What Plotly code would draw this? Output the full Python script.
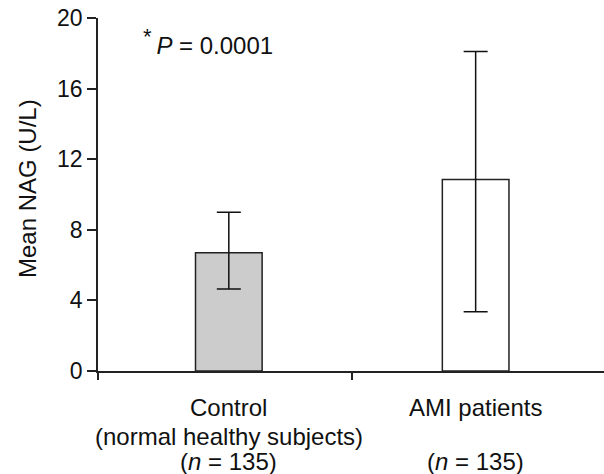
import plotly.graph_objects as go

categories = ["Control", "AMI patients"]
label_lines = [["Control", "(normal healthy subjects)", "(<i>n</i> = 135)"],
               ["AMI patients", "", "(<i>n</i> = 135)"]]
means = [6.7, 10.85]
err_plus = [2.3, 7.25]
err_minus = [2.05, 7.5]
fills = ["#cccccc", "#ffffff"]
y_ticks = [0, 4, 8, 12, 16, 20]
p_text = "<sup><span style='font-size:22px'>*</span></sup>&#8201;<i>P</i> = 0.0001"
y_title = "Mean NAG (U/L)"

FONT = "Arial, Liberation Sans, sans-serif"
FS = 24
L, T, B, W, H = 98, 18, 103, 604, 474
plot_h = H - T - B
plot_w = W - L

xs = list(range(len(categories)))

fig = go.Figure()
fig.add_trace(go.Bar(
    x=xs, y=means, width=0.27,
    marker=dict(color=fills, line=dict(color="#222", width=1.5)),
    error_y=dict(type="data", symmetric=False, array=err_plus, arrayminus=err_minus,
                 color="#111", thickness=1.5, width=12),
    showlegend=False, hoverinfo="skip",
))

def ypx(py):
    return (H - B - py) / plot_h

anns = []
line_y = [407, 436, 461]
for i, lines in enumerate(label_lines):
    for j, t in enumerate(lines):
        if t:
            anns.append(dict(x=xs[i], y=ypx(line_y[j]), xref="x", yref="paper",
                             text=t, showarrow=False, xanchor="center", yanchor="middle",
                             font=dict(family=FONT, size=FS, color="#111")))
anns.append(dict(x=(141 - L) / plot_w, y=ypx(42), xref="paper", yref="paper",
                 text=p_text, showarrow=False, xanchor="left", yanchor="middle",
                 font=dict(family=FONT, size=FS, color="#111")))
anns.append(dict(x=(27 - L) / plot_w, y=ypx(189), xref="paper", yref="paper",
                 text=y_title, textangle=-90, showarrow=False, xanchor="center", yanchor="middle",
                 font=dict(family=FONT, size=FS, color="#111")))

fig.update_layout(
    width=W, height=H,
    margin=dict(l=L, r=0, t=T, b=B),
    paper_bgcolor="white", plot_bgcolor="white",
    font=dict(family=FONT, size=FS, color="#111"),
    annotations=anns,
    xaxis=dict(range=[-0.53, 1.52], showline=True, linecolor="#222", linewidth=1.5,
               tickvals=[-0.53, 0.5], ticktext=["", ""], ticks="outside", ticklen=7,
               tickwidth=1.5, tickcolor="#222", showgrid=False, zeroline=False),
    yaxis=dict(range=[0, 20], tickvals=y_ticks, showline=True, linecolor="#222", linewidth=1.5,
               ticks="outside", ticklen=9, tickwidth=1.5, tickcolor="#222",
               showgrid=False, zeroline=False, tickfont=dict(size=23)),
)

fig.write_html("out.html", config={"displayModeBar": False},
               post_script="document.body.style.margin='0';")
